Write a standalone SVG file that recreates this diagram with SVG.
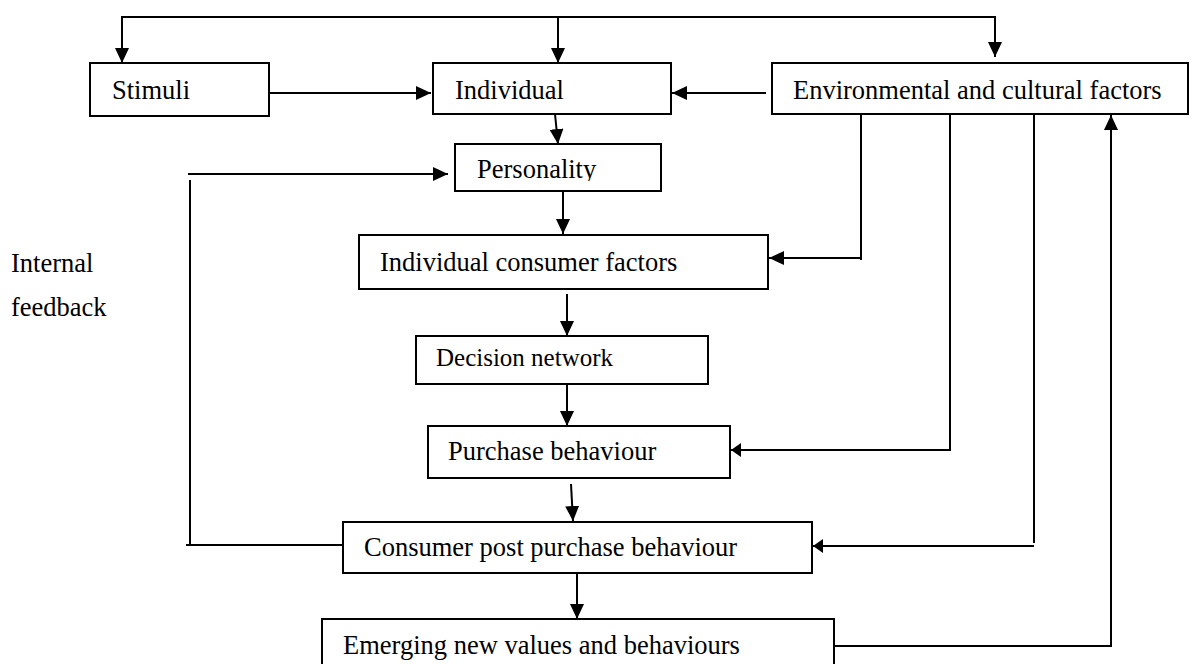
<svg xmlns="http://www.w3.org/2000/svg" width="1196" height="664" viewBox="0 0 1196 664">
  <style>
    .box { fill: #fff; stroke: #000; stroke-width: 2; }
    .lbl { font-family: "Liberation Serif", "Times New Roman", serif; font-size: 26.5px; fill: #000; }
    .wire { fill: none; stroke: #000; stroke-width: 2; }
  </style>
  <defs>
    <marker id="head" markerUnits="userSpaceOnUse" markerWidth="15" markerHeight="14" refX="15" refY="7" orient="auto">
      <path d="M0,0 L15,7 L0,14 z" fill="#000"/>
    </marker>
    <marker id="headSmall" markerUnits="userSpaceOnUse" markerWidth="10" markerHeight="14" refX="10" refY="7" orient="auto">
      <path d="M0,0 L10,7 L0,14 z" fill="#000"/>
    </marker>
    <clipPath id="clipPersonality">
      <rect x="455" y="140" width="206" height="41"/>
    </clipPath>
  </defs>

  <!-- boxes -->
  <g id="stimuli">
    <rect class="box" x="90" y="63" width="179" height="53"/>
    <text class="lbl" x="112" y="99">Stimuli</text>
  </g>
  <g id="individual">
    <rect class="box" x="433" y="63" width="238" height="51"/>
    <text class="lbl" x="455" y="99">Individual</text>
  </g>
  <g id="environment">
    <rect class="box" x="772" y="63" width="416" height="51"/>
    <text class="lbl" x="793" y="99">Environmental and cultural factors</text>
  </g>
  <g id="personality">
    <rect class="box" x="455" y="144" width="206" height="47"/>
    <text class="lbl" x="477" y="178" clip-path="url(#clipPersonality)">Personality</text>
  </g>
  <g id="consumer-factors">
    <rect class="box" x="359" y="235" width="409" height="54"/>
    <text class="lbl" x="380" y="271">Individual consumer factors</text>
  </g>
  <g id="decision">
    <rect class="box" x="416" y="336" width="292" height="48"/>
    <text class="lbl" x="436" y="366" style="font-size:25px">Decision network</text>
  </g>
  <g id="purchase">
    <rect class="box" x="428" y="426" width="302" height="52"/>
    <text class="lbl" x="448" y="460">Purchase behaviour</text>
  </g>
  <g id="post-purchase">
    <rect class="box" x="343" y="522" width="469" height="51"/>
    <text class="lbl" x="364" y="556">Consumer post purchase behaviour</text>
  </g>
  <g id="emerging">
    <rect class="box" x="322" y="619" width="512" height="60"/>
    <text class="lbl" x="343" y="654">Emerging new values and behaviours</text>
  </g>

  <g id="feedback-label">
    <text class="lbl" x="11" y="272">Internal</text>
    <text class="lbl" x="11" y="316">feedback</text>
  </g>

  <!-- connectors -->
  <g id="connectors">
    <!-- top distribution line -->
    <polyline class="wire" points="122,63 122,17 995,17 995,57" marker-end="url(#head)"/>
    <line class="wire" x1="122" y1="17" x2="122" y2="63" marker-end="url(#head)"/>
    <line class="wire" x1="558" y1="17" x2="558" y2="63" marker-end="url(#head)"/>

    <!-- top row -->
    <line class="wire" x1="269" y1="93" x2="431" y2="93" marker-end="url(#head)"/>
    <line class="wire" x1="766" y1="93" x2="672" y2="93" marker-end="url(#head)"/>

    <!-- main chain -->
    <line class="wire" x1="555" y1="114" x2="558" y2="144" marker-end="url(#head)"/>
    <line class="wire" x1="563" y1="191" x2="563" y2="234" marker-end="url(#head)"/>
    <line class="wire" x1="567" y1="294" x2="567" y2="336" marker-end="url(#head)"/>
    <line class="wire" x1="567" y1="384" x2="567" y2="426" marker-end="url(#head)"/>
    <line class="wire" x1="571" y1="484" x2="573" y2="521" marker-end="url(#head)"/>
    <line class="wire" x1="577" y1="573" x2="577" y2="619" marker-end="url(#head)"/>

    <!-- internal feedback loop -->
    <line class="wire" x1="188" y1="174" x2="448" y2="174" marker-end="url(#head)"/>
    <polyline class="wire" points="190,180 190,545 343,545"/>
    <line class="wire" x1="186" y1="545" x2="192" y2="545"/>

    <!-- environmental influences -->
    <polyline class="wire" points="861,114 861,260"/>
    <line class="wire" x1="861" y1="258" x2="769" y2="258" marker-end="url(#head)"/>
    <polyline class="wire" points="950,114 950,450 731,450" marker-end="url(#headSmall)"/>
    <polyline class="wire" points="1034,114 1034,543"/>
    <line class="wire" x1="1034" y1="546" x2="813" y2="546" marker-end="url(#headSmall)"/>

    <!-- emerging values back to environment -->
    <polyline class="wire" points="834,646 1111,646 1111,115" marker-end="url(#head)"/>
  </g>
</svg>
